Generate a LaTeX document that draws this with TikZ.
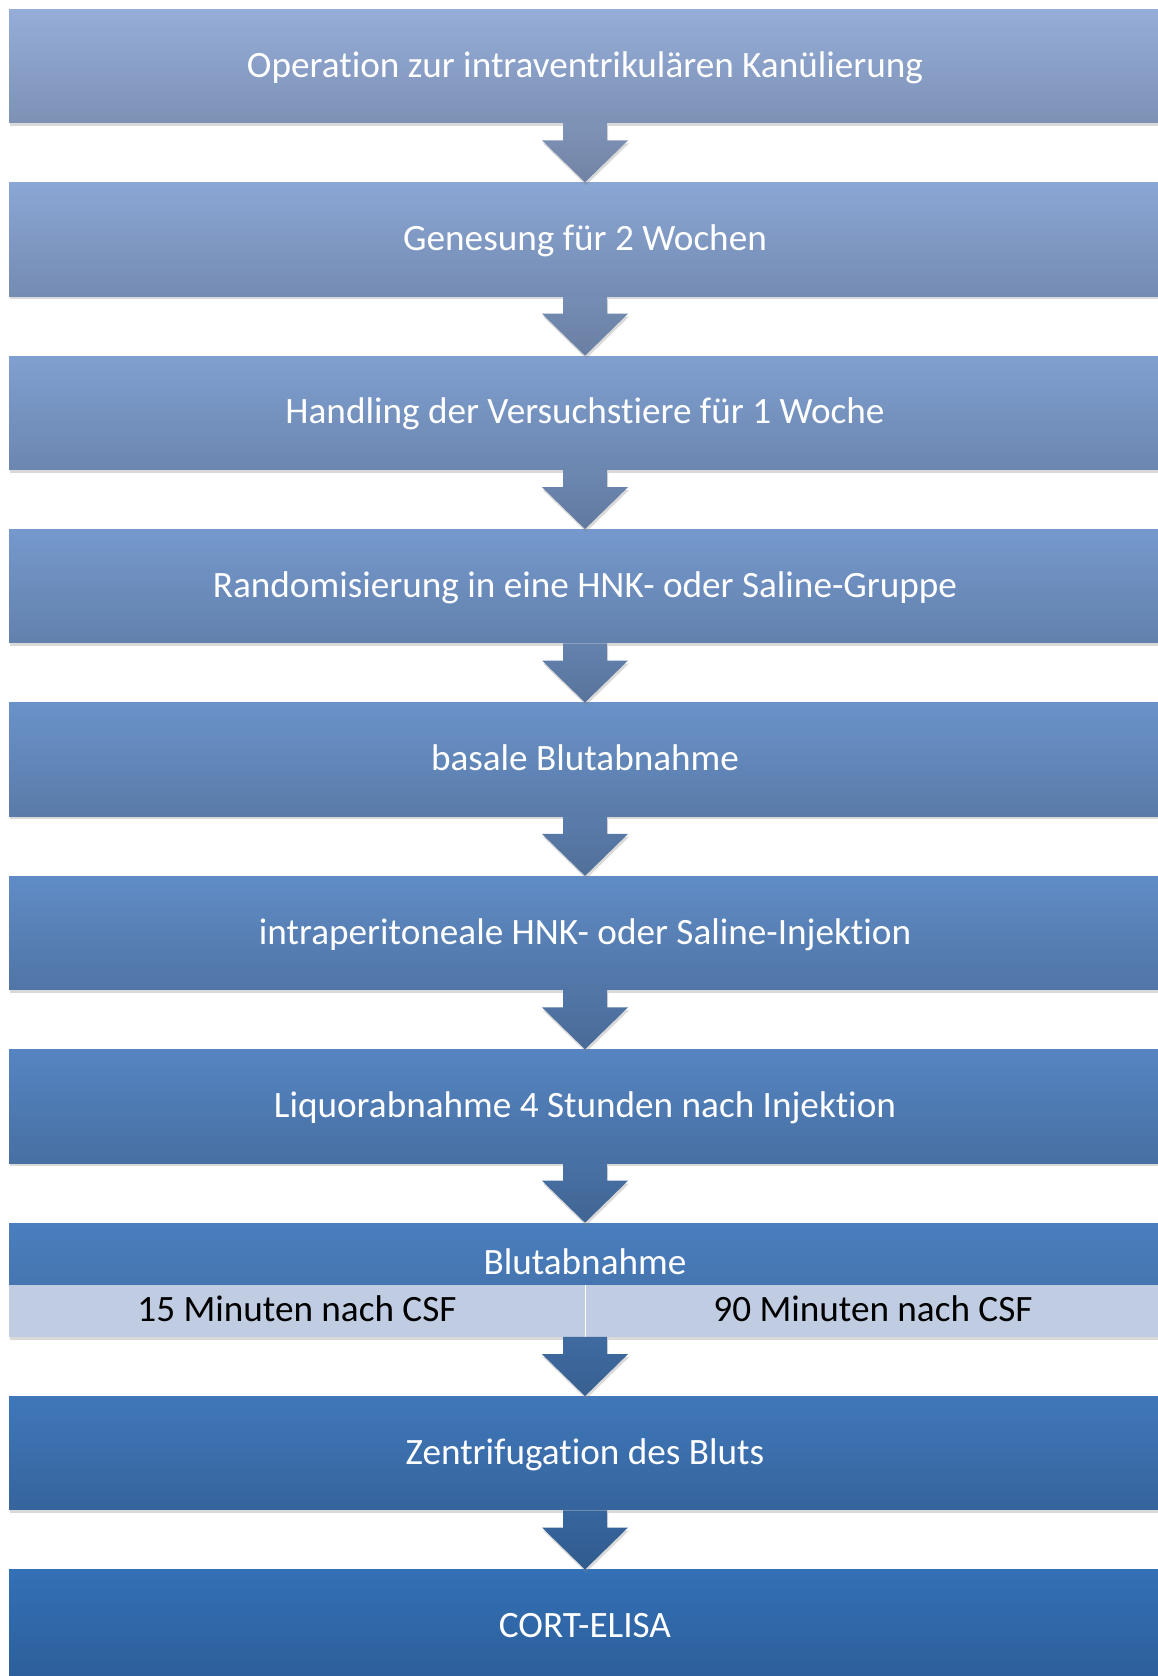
\documentclass[tikz,border=0pt]{standalone}
\usepackage{fontspec}
\setmainfont[Ligatures=NoCommon]{Carlito}
\usetikzlibrary{shadows}

\definecolor{lightstep}{RGB}{149,173,216}
\definecolor{darkstep}{RGB}{52,112,182}
\definecolor{splitfill}{RGB}{192,204,226}

\tikzset{
    stepbox/.style={rectangle, minimum width=576pt, minimum height=56.7pt, inner sep=0pt,
        text=white, font=\fontsize{18.6}{22}\selectfont, text height=14pt, text depth=3pt},
    boxshadow/.style={drop shadow={opacity=0.3, shadow xshift=0.5pt, shadow yshift=-1.5pt}},
    halfbox/.style={rectangle, fill=splitfill, minimum width=288pt, minimum height=25.6pt, inner sep=0pt,
        text=black, font=\fontsize{18.6}{22}\selectfont, text height=14pt, text depth=3pt},
    blockarrow/.style={drop shadow={opacity=0.3, shadow xshift=0.5pt, shadow yshift=-1.5pt}}
}

\begin{document}
\begin{tikzpicture}[x=0.5pt, y=-0.5pt]
    \useasboundingbox (0,0) rectangle (1157,1676);

    % Steps (box 8 is split, drawn below)
    \foreach \i/\txt in {1/{Operation zur intraventrikulären Kanülierung},
                         2/{Genesung für 2 Wochen},
                         3/{Handling der Versuchstiere für 1 Woche},
                         4/{Randomisierung in eine HNK- oder Saline-Gruppe},
                         5/{basale Blutabnahme},
                         6/{intraperitoneale HNK- oder Saline-Injektion},
                         7/{Liquorabnahme 4 Stunden nach Injektion},
                         9/{Zentrifugation des Bluts},
                         10/{CORT-ELISA}} {
        \pgfmathtruncatemacro\pct{(\i-1)*100/9}
        \pgfmathsetmacro\yc{66+(\i-1)*173.4}
        \colorlet{cur}{darkstep!\pct!lightstep}
        \node[stepbox, boxshadow, top color=cur, bottom color=cur!84!black]
            (s\i) at (585, \yc) {\txt};
    }

    % Blutabnahme with two time points
    \colorlet{cur}{darkstep!77!lightstep}
    \node[stepbox, boxshadow, minimum height=56.7pt] (s8) at (585, 1279.8) {};
    \node[stepbox, minimum height=31.1pt, anchor=north, top color=cur, bottom color=cur!93!black]
        (blut) at (s8.north) {};
    \node[text=white, font=\fontsize{18.6}{22}\selectfont] (blutlabel) at ([yshift=-4pt]blut.center) {Blutabnahme};
    \node[halfbox, anchor=south west] (blutA) at (s8.south west) {15 Minuten nach CSF};
    \node[halfbox, anchor=south east] (blutB) at (s8.south east) {90 Minuten nach CSF};
    \draw[white, line width=0.6pt] (blutA.north east) -- (blutA.south east);

    % Block arrows between the steps
    \foreach \a/\b/\i in {s1/s2/1, s2/s3/2, s3/s4/3, s4/s5/4, s5/s6/5,
                          s6/s7/6, s7/s8/7, s8/s9/8, s9/s10/9} {
        \pgfmathtruncatemacro\pct{(\i-1)*100/9}
        \colorlet{cur}{darkstep!\pct!lightstep}
        \path[blockarrow, top color=cur!85!black, bottom color=cur!76!black]
            ([xshift=-11pt]\a.south) -- ([xshift=11pt]\a.south)
            -- ([xshift=11pt, yshift=21pt]\b.north) -- ([xshift=21.5pt, yshift=21pt]\b.north)
            -- (\b.north)
            -- ([xshift=-21.5pt, yshift=21pt]\b.north) -- ([xshift=-11pt, yshift=21pt]\b.north)
            -- cycle;
    }
\end{tikzpicture}
\end{document}
